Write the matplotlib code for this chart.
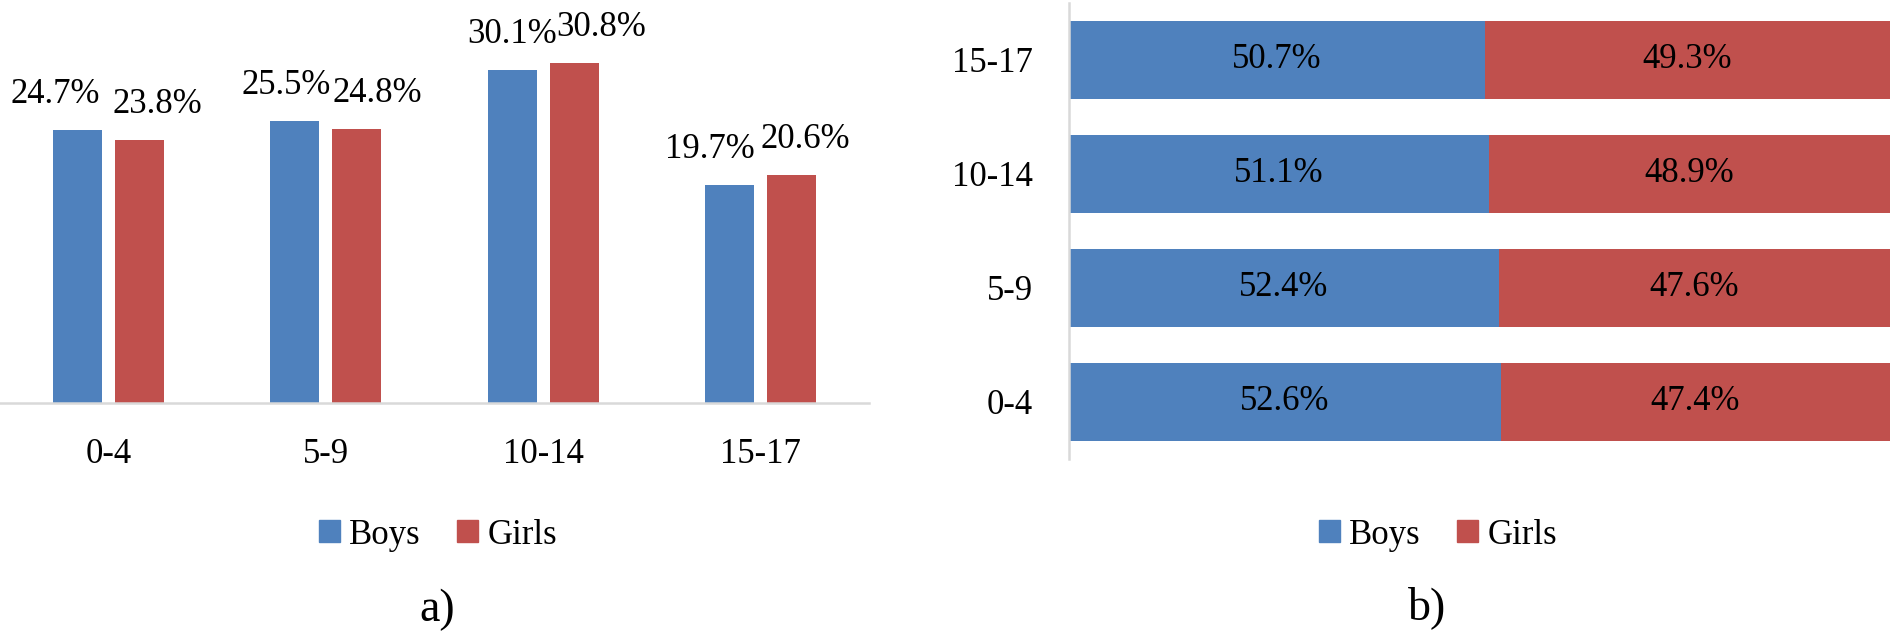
import matplotlib
matplotlib.use('agg')
import matplotlib.pyplot as plt
from matplotlib.patches import Patch
import numpy as np

plt.rcParams['font.family'] = ['Liberation Serif', 'DejaVu Serif']

# data
ages = ['0-4', '5-9', '10-14', '15-17']
boys_dist = [24.7, 25.5, 30.1, 19.7]    # a) share of each age group
girls_dist = [23.8, 24.8, 30.8, 20.6]
boys_share = [52.6, 52.4, 51.1, 50.7]   # b) boys/girls split per age group
girls_share = [47.4, 47.6, 48.9, 49.3]

blue = '#4F81BD'
red = '#C0504D'
grey = '#D9D9D9'
fs = 25

W, H = 1892, 633
fig = plt.figure(figsize=(W / 100, H / 100), dpi=100)

# ---- a) clustered columns
ax1 = fig.add_axes([0, (H - 403) / H, 869 / W, 403 / H])
x = np.arange(len(ages))
bw = 0.2255
off = 0.143
ax1.bar(x - off, boys_dist, bw, color=blue)
ax1.bar(x + off, girls_dist, bw, color=red)
ax1.set_xlim(-0.5, len(ages) - 0.5)
ax1.set_ylim(0, 36.47)
# labels were nudged sideways in the original so they don't collide
shift_b = [-22, -9, 0, -19]
shift_g = [18, 20, 27, 14]
for i in range(len(ages)):
    ax1.annotate(f'{boys_dist[i]}%', (x[i] - off, boys_dist[i]),
                 xytext=(shift_b[i] * 0.72, 27 * 0.72), textcoords='offset points',
                 ha='center', va='baseline', fontsize=fs)
    ax1.annotate(f'{girls_dist[i]}%', (x[i] + off, girls_dist[i]),
                 xytext=(shift_g[i] * 0.72, 27 * 0.72), textcoords='offset points',
                 ha='center', va='baseline', fontsize=fs)
ax1.set_xticks(x)
ax1.set_xticklabels(ages, fontsize=fs)
ax1.set_yticks([])
for s in ['top', 'right', 'left']:
    ax1.spines[s].set_visible(False)
ax1.spines['bottom'].set_color(grey)
ax1.spines['bottom'].set_linewidth(1.8)
ax1.tick_params(axis='x', length=0, pad=25)

# ---- b) 100% stacked bars
ax2 = fig.add_axes([1069 / W, (H - 459) / H, 821 / W, 456 / H])
y = np.arange(len(ages))
bh = 0.684
ax2.barh(y, boys_share, bh, color=blue)
ax2.barh(y, girls_share, bh, left=boys_share, color=red)
for i in range(len(ages)):
    ax2.text(boys_share[i] / 2, y[i], f'{boys_share[i]}%',
             ha='center', va='center', fontsize=fs)
    ax2.text(boys_share[i] + girls_share[i] / 2, y[i], f'{girls_share[i]}%',
             ha='center', va='center', fontsize=fs)
ax2.set_xlim(0, 100)
ax2.set_ylim(-0.5, len(ages) - 0.5)
ax2.set_yticks(y)
ax2.set_yticklabels(ages, fontsize=fs)
ax2.set_xticks([])
for s in ['top', 'right', 'bottom']:
    ax2.spines[s].set_visible(False)
ax2.spines['left'].set_color(grey)
ax2.spines['left'].set_linewidth(1.8)
ax2.tick_params(axis='y', length=0, pad=26)

# legends
handles = [Patch(color=blue, label='Boys'), Patch(color=red, label='Girls')]
for cx in [438, 1438]:
    fig.legend(handles=handles, loc='center', bbox_to_anchor=(cx / W, (H - 535) / H),
               ncol=2, frameon=False, fontsize=fs, handlelength=0.6,
               handleheight=0.6, handletextpad=0.27, columnspacing=1.05)

fig.text(437 / W, (H - 610) / H, 'a)', ha='center', va='center', fontsize=33)
fig.text(1427 / W, (H - 608) / H, 'b)', ha='center', va='center', fontsize=33)

fig.savefig('out.png', dpi=100)
